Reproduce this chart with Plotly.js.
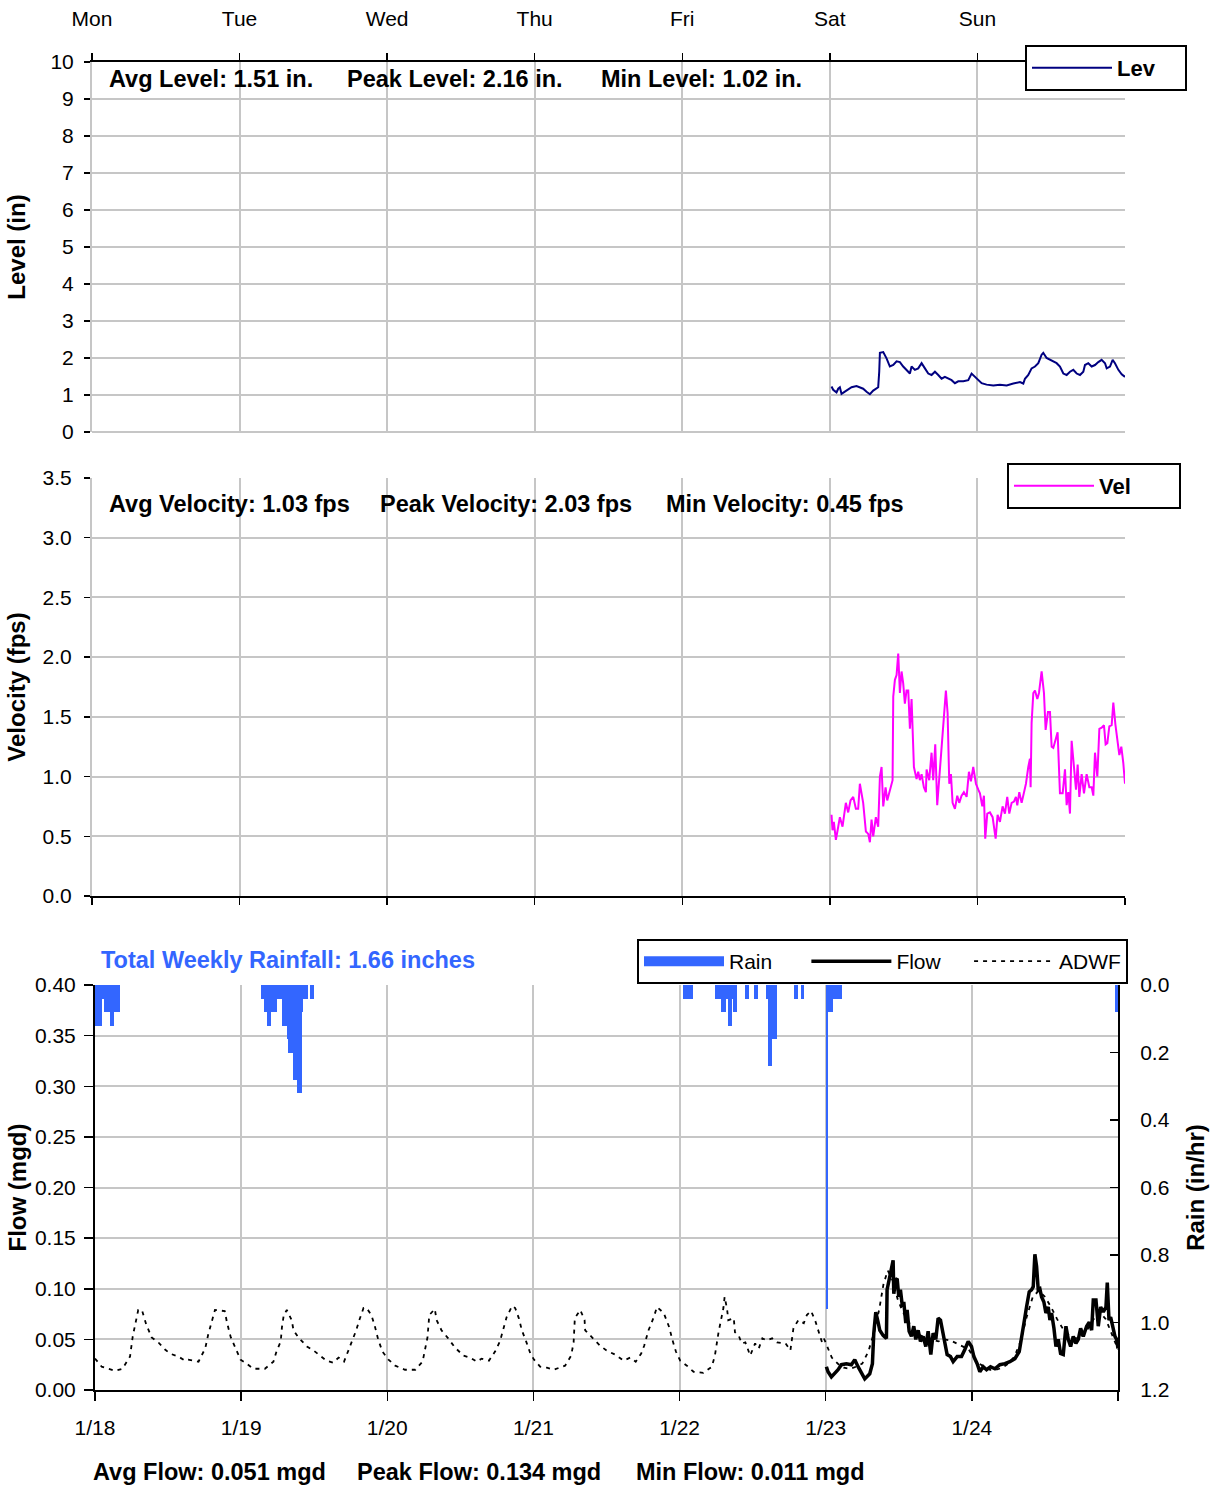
<!DOCTYPE html>
<html>
<head>
<meta charset="utf-8">
<script src="https://cdn.plot.ly/plotly-3.0.1.min.js"></script>
<style>html,body{margin:0;padding:0;background:#fff;}#chart{width:1213px;height:1486px;}</style>
</head>
<body>
<div id="chart"></div>
<script>
// ---------- DATA (hours since Mon 1/18 00:00) ----------
const dayTicks = [0, 24, 48, 72, 96, 120, 144, 168];
const dayNames = ['Mon', 'Tue', 'Wed', 'Thu', 'Fri', 'Sat', 'Sun', ''];
const dateNames = ['1/18', '1/19', '1/20', '1/21', '1/22', '1/23', '1/24', ''];

const levH = [120.27,120.54,121.08,121.36,121.63,121.90,122.44,123.25,123.53,124.34,124.88,125.42,125.97,126.51,127.05,127.59,127.86,128.03,128.14,128.68,129.22,129.76,130.31,130.85,131.39,131.93,132.47,133.02,133.29,133.83,134.37,134.92,135.46,136.0,136.54,137.09,137.63,138.17,138.71,139.26,139.8,140.34,140.88,141.7,142.51,143.05,143.59,144.14,144.68,145.49,146.58,147.66,148.75,149.83,150.92,151.46,151.73,152.27,152.81,153.36,153.9,154.44,154.71,155.25,155.8,156.34,156.88,157.42,157.97,158.51,159.05,159.59,160.14,160.68,161.22,161.49,162.03,162.58,163.12,163.66,164.2,164.75,165.02,165.56,165.99,166.37,166.92,167.46,168.0];
const levV = [1.23,1.14,1.07,1.17,1.21,1.03,1.09,1.17,1.21,1.24,1.21,1.17,1.09,1.02,1.12,1.19,1.21,1.63,2.14,2.16,1.99,1.77,1.81,1.91,1.89,1.77,1.68,1.58,1.77,1.68,1.72,1.86,1.72,1.58,1.54,1.63,1.54,1.44,1.49,1.44,1.40,1.32,1.37,1.37,1.40,1.58,1.49,1.40,1.32,1.28,1.26,1.28,1.26,1.31,1.35,1.31,1.44,1.54,1.72,1.77,1.86,2.09,2.14,2.0,1.95,1.91,1.86,1.77,1.58,1.54,1.63,1.68,1.58,1.54,1.63,1.81,1.86,1.77,1.81,1.89,1.95,1.86,1.72,1.77,1.95,1.86,1.68,1.56,1.49];

const velH = [120.27,120.43,120.65,120.98,121.36,121.63,122.06,122.60,122.98,123.36,
123.80,124.23,124.61,124.88,125.42,125.86,126.24,126.51,126.78,127.05,
127.48,127.86,128.14,128.41,128.68,129.06,129.33,129.76,130.20,130.31,
130.58,130.85,131.12,131.39,131.66,131.93,132.2,132.47,132.75,133.02,
133.29,133.67,134.1,134.37,134.64,134.92,135.29,135.62,135.73,136.16,
136.54,136.81,137.14,137.46,137.79,138.17,138.55,138.87,139.15,139.42,
139.69,139.96,140.34,140.72,141.04,141.42,141.8,142.24,142.62,142.94,
143.32,143.76,144.14,144.41,144.79,145.06,145.27,145.6,146.03,146.47,
146.96,147.28,147.66,148.09,148.47,148.85,149.18,149.56,149.94,150.26,
150.48,150.81,151.19,151.57,151.89,152.27,152.54,152.65,152.81,153.09,
153.36,153.74,154.01,154.44,154.82,155.09,155.47,155.8,156.07,156.34,
156.72,157.04,157.42,157.86,158.24,158.51,158.78,159.05,159.32,159.7,
160.03,160.3,160.57,160.95,161.33,161.76,162.2,162.58,162.85,163.12,
163.5,163.83,164.2,164.58,164.85,165.13,165.45,165.83,166.1,166.43,
166.81,167.08,167.4,167.73,168.0];
const velV = [0.68,0.55,0.62,0.47,0.58,0.66,0.58,0.78,0.70,0.80,
0.83,0.73,0.73,0.94,0.78,0.54,0.52,0.45,0.64,0.50,
0.66,0.58,1.0,1.08,0.75,0.91,0.80,0.89,0.97,1.67,
1.81,1.85,2.03,1.70,1.88,1.78,1.61,1.72,1.72,1.40,
1.65,1.08,0.98,1.04,0.97,1.02,0.91,0.87,1.06,0.97,
1.20,0.97,1.27,0.76,1.0,1.22,1.47,1.72,1.53,0.94,
1.02,0.78,0.73,0.84,0.78,0.84,0.87,0.83,1.04,0.96,
1.08,0.94,0.89,0.86,0.75,0.84,0.48,0.69,0.70,0.66,
0.48,0.68,0.62,0.75,0.69,0.83,0.69,0.78,0.79,0.83,
0.76,0.87,0.78,0.86,0.94,1.08,1.15,0.91,1.45,1.70,
1.72,1.65,1.70,1.88,1.70,1.39,1.54,1.54,1.25,1.24,
1.30,1.37,0.86,0.86,1.06,0.76,0.87,0.69,1.30,1.04,
0.89,1.10,0.83,1.02,0.86,1.02,0.91,0.91,0.84,1.20,
1.0,1.40,1.41,1.43,1.27,1.28,1.42,1.43,1.62,1.44,
1.28,1.18,1.25,1.11,0.94];

const flowH = [120.11,120.38,120.93,121.48,122.03,122.58,123.40,124.22,124.77,125.31,
125.86,126.41,127.23,127.67,127.89,128.22,128.60,128.88,129.42,129.97,
130.08,130.41,130.79,131.07,131.18,131.51,131.73,132.0,132.27,132.6,
132.82,133.15,133.37,133.7,134.08,134.46,134.79,135.18,135.56,136.0,
136.44,136.82,137.26,137.64,138.08,138.46,138.85,139.18,139.56,139.94,
140.49,140.93,141.59,142.3,142.85,143.4,143.94,144.33,144.87,145.31,
145.86,146.41,147.07,147.78,148.6,149.42,150.24,151.07,151.78,152.16,
152.55,152.98,153.42,153.8,154.08,154.35,154.63,154.9,155.17,155.45,
155.83,156.16,156.54,156.82,157.09,157.48,157.81,158.19,158.57,159.01,
159.45,159.83,160.22,160.65,161.09,161.48,161.86,162.3,162.85,163.28,
163.67,163.94,164.38,164.76,165.15,165.59,166.02,166.24,166.52,166.79,
167.12,167.5,167.78,168.0];
const flowV = [0.023,0.018,0.013,0.016,0.020,0.025,0.026,0.025,0.030,0.023,
0.016,0.011,0.016,0.026,0.056,0.077,0.067,0.059,0.054,0.051,
0.099,0.109,0.122,0.128,0.095,0.109,0.110,0.092,0.099,0.082,
0.087,0.066,0.079,0.058,0.053,0.063,0.050,0.059,0.048,0.053,
0.043,0.058,0.035,0.056,0.050,0.071,0.069,0.059,0.044,0.035,
0.033,0.028,0.033,0.033,0.040,0.048,0.043,0.033,0.026,0.018,
0.023,0.020,0.023,0.021,0.025,0.026,0.028,0.031,0.038,0.050,
0.066,0.082,0.097,0.099,0.102,0.134,0.122,0.099,0.100,0.092,
0.087,0.076,0.082,0.069,0.076,0.061,0.043,0.050,0.036,0.035,
0.063,0.050,0.043,0.053,0.046,0.050,0.061,0.053,0.063,0.067,
0.059,0.089,0.089,0.063,0.082,0.077,0.082,0.106,0.069,0.072,
0.063,0.053,0.050,0.041];

const adwfH = [0.0,0.16,1.1,2.2,3.3,4.5,5.75,6.2,6.7,7.1,7.7,8.4,9.3,10.4,11.5,12.3,13.7,14.8,15.3,17.0,17.5,18.1,18.6,19.2,19.7,21.3,21.7,22.3,23.2,23.9,
24.9,26.0,27.1,27.9,29.3,29.8,30.5,30.7,31.0,31.5,32.3,32.6,33.4,34.8,35.9,37.0,38.0,39.1,40.0,40.9,41.9,42.9,43.4,44.1,44.6,45.4,46.0,46.5,47.2,
48.2,49.3,50.9,52.6,53.8,54.2,54.6,54.9,55.8,56.1,56.9,58.0,59.1,60.5,61.6,62.7,63.5,64.7,65.7,66.5,67.1,67.6,68.5,69.0,69.6,70.1,70.8,71.5,
72.1,73.1,74.2,75.3,77.2,78.2,78.6,78.8,79.7,80.4,80.5,81.6,82.9,84.0,85.4,86.8,87.9,88.8,89.7,90.2,90.9,91.7,92.3,93.4,94.3,94.8,95.4,
96.1,97.2,98.3,99.9,101.3,101.8,102.4,102.8,103.2,103.4,103.8,104.0,104.9,105.1,105.7,106.2,106.8,107.6,108.4,109.0,109.6,110.3,111.2,112.0,113.4,114.2,114.5,114.7,115.5,116.4,116.9,117.6,118.3,118.8,119.4,119.7,
120.2,121.0,122.0,123.0,124.0,125.0,126.0,127.0,128.0,128.8,129.5,130.2,131.0,131.8,132.6,133.5,134.5,135.5,136.5,137.5,138.5,139.5,140.5,141.5,142.5,143.5,
144.3,145.0,146.0,147.0,148.0,149.0,150.0,151.0,152.0,153.0,154.0,155.0,156.0,157.0,158.0,159.0,160.0,161.0,162.0,163.0,164.0,165.0,166.0,167.0,168.0];
const adwfV = [0.031,0.030,0.023,0.021,0.019,0.021,0.033,0.053,0.069,0.079,0.079,0.065,0.052,0.047,0.040,0.036,0.033,0.029,0.030,0.028,0.034,0.041,0.055,0.067,0.079,0.078,0.066,0.052,0.040,0.030,
0.026,0.021,0.021,0.021,0.028,0.038,0.048,0.062,0.074,0.079,0.069,0.059,0.052,0.043,0.039,0.034,0.029,0.027,0.032,0.028,0.043,0.059,0.069,0.081,0.081,0.074,0.062,0.050,0.038,
0.030,0.024,0.020,0.020,0.028,0.040,0.052,0.074,0.080,0.069,0.059,0.051,0.042,0.034,0.032,0.028,0.031,0.029,0.038,0.048,0.060,0.072,0.083,0.081,0.071,0.059,0.048,0.036,
0.030,0.023,0.022,0.020,0.024,0.034,0.047,0.071,0.079,0.069,0.059,0.052,0.044,0.039,0.035,0.029,0.032,0.028,0.036,0.044,0.059,0.071,0.082,0.076,0.062,0.050,0.038,
0.029,0.024,0.018,0.017,0.023,0.034,0.057,0.069,0.081,0.092,0.080,0.069,0.071,0.057,0.054,0.046,0.047,0.034,0.046,0.041,0.051,0.049,0.051,0.047,0.046,0.039,0.052,0.061,0.069,0.066,0.074,0.078,0.068,0.059,0.047,0.051,
0.044,0.032,0.026,0.022,0.021,0.023,0.026,0.038,0.058,0.080,0.105,0.118,0.108,0.090,0.078,0.068,0.060,0.054,0.052,0.050,0.048,0.050,0.049,0.046,0.043,0.040,
0.032,0.027,0.023,0.020,0.020,0.022,0.026,0.033,0.048,0.072,0.092,0.098,0.092,0.082,0.070,0.060,0.054,0.051,0.053,0.060,0.070,0.077,0.070,0.055,0.040];

const rainH = [0,0.25,0.5,0.75,1.0,1.25,1.5,1.75,2.0,2.25,2.5,2.75,3.0,3.25,3.5,3.75,
27.25,27.5,27.75,28.0,28.25,28.5,28.75,29.0,29.25,29.5,29.75,30.0,30.25,30.5,30.75,31.0,31.25,31.5,31.75,32.0,32.25,32.5,32.75,33.0,33.25,33.5,33.75,34.0,34.25,34.5,35.25,35.5,
96.5,96.75,97.0,97.25,97.5,97.75,101.75,102.0,102.25,102.5,102.75,103.0,103.25,103.5,104.0,104.25,104.5,104.75,105.0,106.75,107.0,108.25,108.5,110.25,110.5,110.75,111.0,111.25,111.5,114.75,115.0,116.0,
120.0,120.25,120.5,120.75,121.0,121.25,121.5,121.75,122.0,122.25,
167.5,167.75];
const rainV = [0.12,0.12,0.12,0.12,0.04,0.04,0.08,0.08,0.08,0.08,0.12,0.12,0.08,0.08,0.08,0.08,
0.04,0.04,0.08,0.08,0.12,0.12,0.08,0.08,0.08,0.08,0.04,0.04,0.04,0.04,0.12,0.12,0.12,0.16,0.20,0.20,0.20,0.28,0.28,0.28,0.32,0.32,0.08,0.04,0.04,0.04,0.04,0.04,
0.04,0.04,0.04,0.04,0.04,0.04,0.04,0.04,0.04,0.04,0.08,0.08,0.08,0.04,0.12,0.12,0.04,0.08,0.08,0.04,0.04,0.04,0.04,0.04,0.24,0.24,0.16,0.16,0.16,0.04,0.04,0.04,
0.96,0.08,0.08,0.08,0.04,0.04,0.04,0.04,0.04,0.04,
0.08,0.08];

const levelStats = ['Avg Level: 1.51 in.', 'Peak Level: 2.16 in.', 'Min Level: 1.02 in.'];
const velStats = ['Avg Velocity: 1.03 fps', 'Peak Velocity: 2.03 fps', 'Min Velocity: 0.45 fps'];
const flowStats = ['Avg Flow: 0.051 mgd', 'Peak Flow: 0.134 mgd', 'Min Flow: 0.011 mgd'];
const rainTotal = 'Total Weekly Rainfall: 1.66 inches';

// ---------- STYLE / LAYOUT ----------
const FONT = 'Liberation Sans, Arial, sans-serif';
const W = 1213, H = 1486;
const px = v => v / W;           // page x pixel -> paper
const py = v => 1 - v / H;       // page y pixel -> paper
const GRID = '#c6c6c6';
const RAIN = '#3366ff';
const pad = n => '\u00a0'.repeat(n);

const traces = [
  {x: levH, y: levV, type: 'scatter', mode: 'lines', name: 'Lev' + pad(4), xaxis: 'x', yaxis: 'y',
   line: {color: '#000080', width: 2}, legend: 'legend'},
  {x: velH, y: velV, type: 'scatter', mode: 'lines', name: 'Vel' + pad(7), xaxis: 'x2', yaxis: 'y2',
   line: {color: '#ff00ff', width: 2}, legend: 'legend2'},
  {x: rainH, y: rainV, type: 'bar', name: 'Rain', xaxis: 'x3', yaxis: 'y4', showlegend: false,
   width: 0.42, offset: 0, marker: {color: RAIN, line: {width: 0}}},
  // legend key for the rain bars (no data of its own)
  {x: [null], y: [null], type: 'scatter', mode: 'lines', name: 'Rain' + pad(5), xaxis: 'x3', yaxis: 'y4',
   line: {color: RAIN, width: 14}, legend: 'legend3'},
  {x: flowH, y: flowV, type: 'scatter', mode: 'lines', name: 'Flow' + pad(4), xaxis: 'x3', yaxis: 'y3',
   line: {color: '#000000', width: 3.5}, legend: 'legend3'},
  {x: adwfH, y: adwfV, type: 'scatter', mode: 'lines', name: 'ADWF', xaxis: 'x3', yaxis: 'y3',
   line: {color: '#000000', width: 1.8, dash: '4px,5px'}, legend: 'legend3'}
];

const tickFont = {family: FONT, size: 21, color: '#000'};
const titleFont = {family: FONT, size: 24, color: '#000', weight: 'bold'};
const statFont = {family: FONT, size: 23.5, color: '#000', weight: 'bold'};
const dom1 = [px(92), px(1125)];
const dom3 = [px(95), px(1118)];

const baseX = {range: [0, 168], tickvals: dayTicks, showgrid: true, gridcolor: GRID, gridwidth: 2,
  zeroline: false, ticks: 'outside', ticklen: 7, tickcolor: '#000', tickwidth: 1.5, tickfont: tickFont};

const annotations = [];
const lvX = [107, 345, 599];
levelStats.forEach((t, i) => annotations.push({text: t, xref: 'paper', yref: 'paper', x: px(lvX[i]), y: py(79),
  xanchor: 'left', yanchor: 'middle', showarrow: false, font: statFont}));
const vX = [107, 378, 664];
velStats.forEach((t, i) => annotations.push({text: t, xref: 'paper', yref: 'paper', x: px(vX[i]), y: py(504),
  xanchor: 'left', yanchor: 'middle', showarrow: false, font: statFont}));
const fX = [91, 355, 634];
flowStats.forEach((t, i) => annotations.push({text: t, xref: 'paper', yref: 'paper', x: px(fX[i]), y: py(1472),
  xanchor: 'left', yanchor: 'middle', showarrow: false, font: statFont}));
annotations.push({text: rainTotal, xref: 'paper', yref: 'paper', x: px(99), y: py(960), xanchor: 'left',
  yanchor: 'middle', showarrow: false, font: {family: FONT, size: 23.5, color: RAIN, weight: 'bold'}});

const yBase = {showgrid: true, gridcolor: GRID, gridwidth: 2, zeroline: true, zerolinecolor: GRID,
  zerolinewidth: 2, ticks: 'outside', ticklen: 6, tickcolor: '#000', tickwidth: 1.5, tickfont: tickFont};

const layout = {
  width: W, height: H, margin: {l: 0, r: 0, t: 0, b: 0}, paper_bgcolor: '#fff', plot_bgcolor: '#fff',
  font: {family: FONT, size: 21, color: '#000'},
  showlegend: true,
  xaxis: Object.assign({}, baseX, {domain: dom1, anchor: 'y', side: 'top', ticktext: dayNames,
    showline: true, linecolor: '#000', linewidth: 2, ticklabelstandoff: 19}),
  xaxis5: Object.assign({}, baseX, {overlaying: 'x', anchor: 'y', side: 'bottom', showticklabels: false,
    showgrid: false, showline: false}),
  yaxis: Object.assign({}, yBase, {domain: [py(432), py(62)], range: [0, 10], dtick: 1, anchor: 'x',
    showline: true, linecolor: GRID, linewidth: 2,
    ticklabelstandoff: 6, title: {text: 'Level (in)', font: titleFont, standoff: 18}}),
  xaxis2: Object.assign({}, baseX, {domain: dom1, anchor: 'y2', showticklabels: false, showline: true,
    linecolor: '#000', linewidth: 2}),
  yaxis2: Object.assign({}, yBase, {domain: [py(896), py(478)], range: [0, 3.5], dtick: 0.5, tickformat: '.1f',
    anchor: 'x2', showline: true, linecolor: GRID, linewidth: 2,
    ticklabelstandoff: 8, title: {text: 'Velocity (fps)', font: titleFont, standoff: 10}}),
  xaxis3: Object.assign({}, baseX, {domain: dom3, anchor: 'y3', ticktext: dateNames, showline: true,
    linecolor: '#000', linewidth: 2, ticklen: 9, ticklabelstandoff: 9}),
  yaxis3: Object.assign({}, yBase, {domain: [py(1390), py(985)], range: [0, 0.4], dtick: 0.05, tickformat: '.2f',
    anchor: 'x3', showline: true, linecolor: '#000', linewidth: 2, ticklen: 9, ticklabelstandoff: 4,
    title: {text: 'Flow (mgd)', font: titleFont, standoff: 2}}),
  yaxis4: {overlaying: 'y3', side: 'right', anchor: 'x3', range: [1.2, 0], dtick: 0.2, tickformat: '.1f',
    showgrid: false, zeroline: false, showline: true, linecolor: '#000', linewidth: 2, ticks: 'inside',
    ticklen: 8, tickcolor: '#000', tickwidth: 1.5, tickfont: tickFont, ticklabelstandoff: 16,
    title: {text: 'Rain (in/hr)', font: titleFont, standoff: 18}},
  bargap: 0,
  legend: {x: px(1025), y: py(45), xanchor: 'left', yanchor: 'top', bgcolor: '#fff', bordercolor: '#000',
    borderwidth: 2, itemwidth: 80, font: {family: FONT, size: 22, weight: 'bold'}},
  legend2: {x: px(1007), y: py(463), xanchor: 'left', yanchor: 'top', bgcolor: '#fff', bordercolor: '#000',
    borderwidth: 2, itemwidth: 80, font: {family: FONT, size: 22, weight: 'bold'}},
  legend3: {x: px(637), y: py(939), xanchor: 'left', yanchor: 'top', orientation: 'h', bgcolor: '#fff',
    bordercolor: '#000', borderwidth: 2, itemwidth: 80, font: {family: FONT, size: 21}},
  annotations: annotations
};

Plotly.newPlot('chart', traces, layout, {staticPlot: true, displayModeBar: false});
</script>
</body>
</html>
